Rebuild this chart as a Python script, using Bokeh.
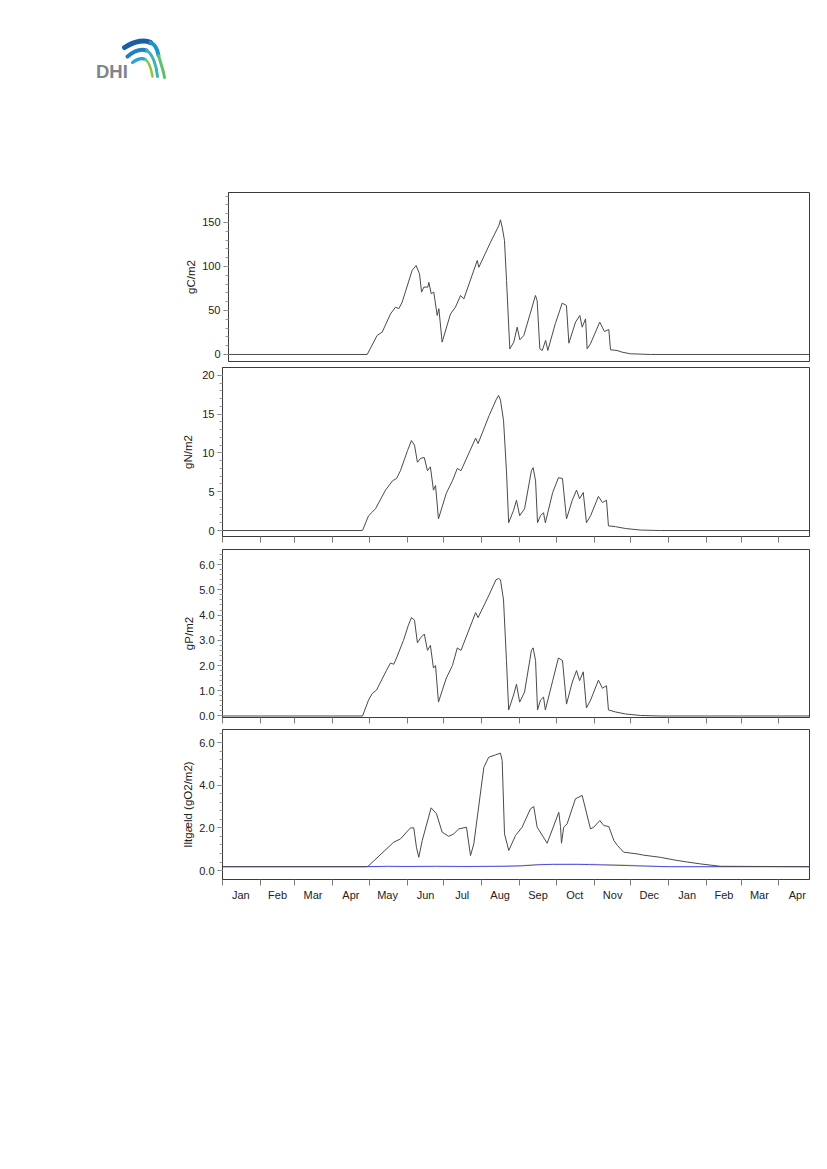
from bokeh.plotting import figure
from bokeh.layouts import column, row
from bokeh.models import Range1d, FixedTicker, NumeralTickFormatter, Spacer
from bokeh.embed import file_html
from bokeh.resources import INLINE
from bokeh.core.properties import value

# ---------------- data (x = days since 1 Jan of first year) ----------------
month_names = ["Jan", "Feb", "Mar", "Apr", "May", "Jun", "Jul", "Aug", "Sep",
               "Oct", "Nov", "Dec", "Jan", "Feb", "Mar", "Apr"]
month_starts = [0, 31, 59, 90, 120, 151, 181, 212, 243, 273, 304, 334, 365,
                396, 424, 455, 485]
x_end = 480

c_day = [0, 114.6, 122.8, 127, 133.8, 138, 140.7, 143.5, 151.7, 155, 157.8, 159.5,
         161.4, 164.7, 165.5, 167.5, 169.6, 172.4, 173.8, 176.5, 183.4, 187.5, 191.7,
         194.4, 205.5, 206.8, 216.5, 223.4, 224.7, 226.1, 228, 229.7, 232.4, 235.7,
         238.5, 240.7, 244, 253.6, 255, 257.2, 259.2, 262, 263.8, 270, 275.7, 279.2,
         281.2, 286.7, 290.3, 292.2, 295, 296.3, 299, 306.7, 310.6, 314.2, 315.6, 321,
         325.2, 332, 348.6, 480]
c_val = [0, 0, 21.6, 25.4, 46, 53.8, 52, 59.5, 95.5, 101, 91.7, 70.8, 76.5, 76.5, 82,
         69, 70.8, 44.3, 52, 14, 46, 53.8, 67, 63, 106.8, 99, 127.6, 146.6, 153, 144.7,
         129.5, 84, 6.4, 14, 31, 16.7, 21.6, 67, 61, 6.4, 4.5, 16, 4.5, 35, 58.3, 55.7,
         12.8, 36.7, 44.3, 31, 40.5, 6.4, 12, 36.7, 26, 28.4, 5.3, 4.5, 2.6, 0.8, 0, 0]

n_day = [0, 114.5, 119.4, 122.6, 125.1, 133.3, 139, 142.3, 145.5, 151.3, 154.5, 157,
         159.4, 162, 165, 167.6, 170, 172.5, 174.2, 176.6, 183, 188, 192, 195, 207, 209,
         218, 223.6, 225.7, 227.3, 229.8, 232.2, 234, 238, 240.4, 243, 247, 252.6, 254,
         256, 257.6, 260, 262.5, 264, 270, 274.7, 278, 281.3, 286, 289.5, 292, 295,
         297.6, 301, 307.4, 310.7, 314, 315.6, 321.3, 329.5, 341.8, 358, 480]
n_val = [0, 0, 1.9, 2.4, 2.8, 5.2, 6.4, 6.7, 7.7, 10.3, 11.6, 11, 8.8, 9.3, 9.4, 7.7,
         8.2, 5.2, 5.8, 1.5, 4.8, 6.4, 8.0, 7.7, 11.9, 11.2, 14.8, 16.8, 17.4, 16.8,
         14.2, 7.7, 1.0, 2.6, 3.9, 1.9, 2.8, 7.7, 8.1, 6.4, 1.0, 1.9, 2.3, 1.0, 4.9, 6.8,
         6.7, 1.5, 3.9, 5.2, 4.1, 4.9, 1.0, 1.9, 4.4, 3.6, 3.9, 0.6, 0.5, 0.26, 0.06, 0, 0]

p_day = [0, 114.5, 119.4, 122.6, 126, 134, 137.4, 140, 142.3, 148, 152, 154.5, 157,
         159.4, 162, 165, 167.6, 170, 172.5, 174.2, 176.6, 183, 188, 192, 195, 207, 209,
         218, 223.6, 225.7, 227.3, 229.8, 232.2, 234, 238, 240.4, 243, 247, 252.6, 254,
         256, 257.6, 260, 262.5, 264, 270, 274.7, 278, 281.3, 286, 289.5, 292, 295,
         297.6, 301, 307.4, 310.7, 314, 315.6, 321.3, 329.5, 341.8, 358, 480]
p_val = [0, 0, 0.63, 0.9, 1.03, 1.8, 2.1, 2.05, 2.3, 3.0, 3.6, 3.9, 3.8, 2.9, 3.1, 3.25,
         2.6, 2.8, 1.9, 2.0, 0.55, 1.5, 2.0, 2.7, 2.6, 4.1, 3.9, 4.8, 5.4, 5.45, 5.4, 4.6,
         2.2, 0.24, 0.83, 1.26, 0.55, 0.95, 2.6, 2.7, 2.2, 0.24, 0.63, 0.75, 0.24, 1.4,
         2.3, 2.2, 0.47, 1.34, 1.8, 1.4, 1.75, 0.32, 0.63, 1.42, 1.1, 1.2, 0.24, 0.16,
         0.08, 0.02, 0, 0]

o_day = [0, 118.3, 119.6, 140, 145.5, 153.7, 156.4, 158.6, 160.5, 163.3, 170.6, 175,
         179.6, 185, 189.1, 193.2, 199.5, 202.8, 205.5, 213.7, 217.7, 223.2, 227.3,
         228.7, 230.6, 234.1, 239.6, 245, 251.8, 254.5, 257.3, 265.5, 275, 276.4, 277.2,
         279, 281.8, 288.6, 294.1, 300.9, 303.6, 308.5, 311.8, 315.9, 320, 323, 328,
         339, 344.5, 358, 369, 380, 391, 407, 480]
o_val = [0.18, 0.18, 0.23, 1.33, 1.48, 2.0, 2.0, 1.09, 0.62, 1.4, 2.94, 2.66, 1.8, 1.6,
         1.72, 1.95, 2.03, 0.70, 1.25, 4.84, 5.31, 5.42, 5.5, 5.16, 1.72, 0.94, 1.64,
         2.03, 2.89, 3.0, 2.03, 1.28, 2.73, 2.06, 1.28, 2.03, 2.19, 3.36, 3.52, 1.95,
         2.03, 2.34, 2.11, 2.06, 1.41, 1.17, 0.86, 0.78, 0.72, 0.62, 0.5, 0.4, 0.31,
         0.2, 0.18]

b_day = [0, 112, 128, 135, 150, 175, 200, 230, 245, 258, 270, 290, 300, 320, 345,
         366, 480]
b_val = [0.18, 0.18, 0.19, 0.2, 0.19, 0.2, 0.19, 0.2, 0.22, 0.27, 0.29, 0.29, 0.28,
         0.25, 0.21, 0.18, 0.18]

g_day = [0, 200, 240, 260, 300, 330, 360, 480]
g_val = [0.18, 0.18, 0.22, 0.29, 0.30, 0.26, 0.18, 0.18]

FONT = "Liberation Sans"
LINE = "#4a4a4a"

month_mid = [(month_starts[i] + month_starts[i + 1]) // 2 for i in range(len(month_names))]
x_minor = [m for m in month_starts if m <= x_end]


def panel(left, frame_w, right, top, frame_h, bottom, yr, majors, minors, fmt, ylabel,
          standoff, xmode):
    p = figure(width=left + frame_w + right, height=top + frame_h + bottom,
               frame_width=frame_w, frame_height=frame_h,
               x_range=Range1d(0, x_end), y_range=Range1d(*yr),
               output_backend="svg", toolbar_location=None,
               x_axis_location=None if xmode == "none" else "below",
               min_border_left=left, min_border_right=right,
               min_border_top=top, min_border_bottom=bottom)
    p.grid.visible = False
    p.outline_line_color = "#3c3c3c"
    p.outline_line_width = 1
    ya = p.yaxis[0]
    ya.ticker = FixedTicker(ticks=majors, minor_ticks=minors)
    ya.formatter = NumeralTickFormatter(format=fmt)
    ya.major_tick_out = 5
    ya.major_tick_in = 0
    ya.minor_tick_out = 3
    ya.minor_tick_in = 0
    ya.axis_line_color = "#3c3c3c"
    ya.major_tick_line_color = "#7a7a7a"
    ya.minor_tick_line_color = "#9a9a9a"
    ya.major_label_text_font = FONT
    ya.major_label_text_font_size = "11px"
    ya.major_label_text_color = "#222222"
    ya.major_label_standoff = 3
    ya.axis_label = ylabel
    ya.axis_label_text_font = FONT
    ya.axis_label_text_font_size = "11.5px"
    ya.axis_label_text_font_style = "normal"
    ya.axis_label_text_color = "#222222"
    ya.axis_label_standoff = standoff
    if xmode != "none":
        xa = p.xaxis[0]
        xa.axis_line_color = "#3c3c3c"
        xa.minor_tick_out = 6
        xa.minor_tick_in = 0
        xa.minor_tick_line_color = "#7a7a7a"
        xa.major_tick_out = 0
        xa.major_tick_in = 0
        if xmode == "labels":
            xa.ticker = FixedTicker(ticks=month_mid, minor_ticks=x_minor)
            xa.major_label_overrides = {m: n for m, n in zip(month_mid, month_names)}
            xa.major_label_text_font = FONT
            xa.major_label_text_font_size = "11px"
            xa.major_label_text_color = "#222222"
            xa.major_label_standoff = 3
        else:
            xa.ticker = FixedTicker(ticks=[], minor_ticks=x_minor)
            xa.major_label_standoff = 0
    return p


p1 = panel(222, 581, 8, 8, 169, 3, (-8, 184), [0, 50, 100, 150],
           list(range(0, 181, 10)), "0", "gC/m2", 2, "none")
p1.line(c_day, c_val, line_color=LINE, line_width=1)

p2 = panel(222, 587, 8, 3, 169, 10, (-0.77, 21.0), [0, 5, 10, 15, 20],
           list(range(0, 21)), "0", "gN/m2", 5, "ticks")
p2.line(n_day, n_val, line_color=LINE, line_width=1)

p3 = panel(222, 587, 8, 3, 168, 9, (-0.06, 6.6), [0, 1, 2, 3, 4, 5, 6],
           [i * 0.2 for i in range(33)], "0.0", "gP/m2", 1, "ticks")
p3.line(p_day, p_val, line_color=LINE, line_width=1)

p4 = panel(222, 587, 8, 3, 150, 40, (-0.42, 6.61), [0, 2, 4, 6],
           [i * 0.4 for i in range(17)], "0.0", "Iltgæld (gO2/m2)", 2, "labels")
p4.line(g_day, g_val, line_color="#c9b24a", line_width=1, line_alpha=0.6)
p4.line(b_day, b_val, line_color="#4b4bf0", line_width=1)
p4.line(o_day, o_val, line_color=LINE, line_width=1)

# ---------------- logo (page-pixel coordinates) ----------------
LX0, LX1 = 90, 180
logo = figure(width=LX1 - LX0, height=184, frame_width=LX1 - LX0, frame_height=184,
              x_range=Range1d(LX0, LX1), y_range=Range1d(0, 184),
              output_backend="svg", toolbar_location=None, x_axis_location=None,
              y_axis_location=None, min_border=0)
logo.grid.visible = False
logo.outline_line_color = None


def py(y):
    return 184 - y


logo.text(x=[95.5], y=[py(71)], text=["DHI"], text_font=value(FONT),
          text_font_size="18.5px", text_font_style="bold", text_color="#80858a",
          text_baseline="alphabetic", text_align="left")
swooshes = [
    ((124, 47), (135, 40), (145, 39), (150, 42), "#1a5fa6", 5),
    ((150, 42), (155, 44), (157, 49), (158, 55), "#1b95d0", 4),
    ((158, 55), (160, 62), (163, 70), (164, 77), "#5fbf6a", 3),
    ((127, 56), (133, 51), (140, 48), (146, 50), "#1e7fc4", 4),
    ((146, 50), (152, 53), (156, 65), (157, 76), "#3db3b5", 3),
    ((132, 62), (136, 59), (141, 57), (145, 59), "#27a3d6", 3),
    ((145, 59), (149, 62), (151, 70), (152, 76), "#8ac640", 2.5),
]
for s0, c0, c1, s1, col, lw in swooshes:
    logo.bezier(x0=[s0[0]], y0=[py(s0[1])], x1=[s1[0]], y1=[py(s1[1])],
                cx0=[c0[0]], cy0=[py(c0[1])], cx1=[c1[0]], cy1=[py(c1[1])],
                line_color=col, line_width=lw, line_cap="round")

layout = column(row(Spacer(width=LX0, height=184), logo),
                row(Spacer(width=6, height=180), p1),
                p2, p3, p4, spacing=0)
open("out.html", "w").write(file_html(layout, INLINE))
